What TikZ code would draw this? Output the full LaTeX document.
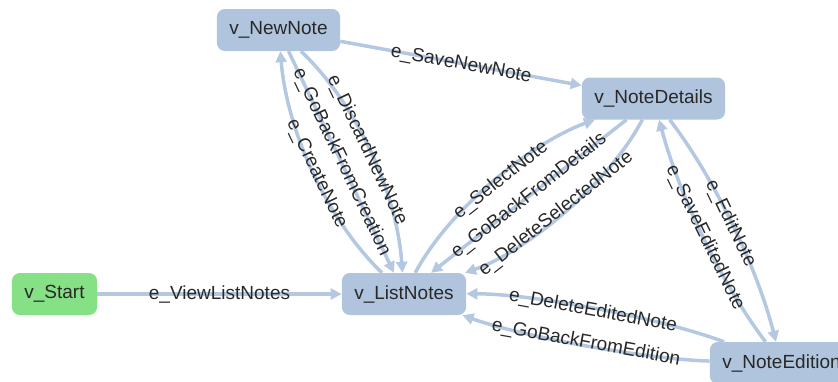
\documentclass[tikz,border=0pt]{standalone}
\usepackage{fontspec}
\setmainfont{Liberation Sans}
\usetikzlibrary{arrows.meta,calc}
\definecolor{nodeblue}{RGB}{176,196,222}
\definecolor{edgeblue}{RGB}{180,200,225}
\definecolor{startgreen}{RGB}{134,224,134}
\definecolor{txt}{RGB}{40,40,40}
\newcommand\qcurve[4][]{\draw[edge,#1] (#2) .. controls ($1.3333*(#4)-0.3333*(#3.center)$) and ($1.3333*(#4)-0.3333*(#2.center)$) .. (#3);}
\begin{document}
\begin{tikzpicture}[x=1pt,y=-1pt,
  vtx/.style={rectangle, rounded corners=8pt, fill=nodeblue, minimum height=42pt, inner xsep=12.5pt, inner ysep=0pt, text=txt, font=\fontsize{19pt}{22pt}\selectfont},
  startvtx/.style={vtx, fill=startgreen},
  edge/.style={draw=edgeblue, line width=3.5pt, -{Triangle[length=11pt,width=11pt]}},
  lbl/.style={text=txt, inner sep=0pt, font=\fontsize{19pt}{22pt}\selectfont}]
\useasboundingbox (0,0) rectangle (838,381);
\clip (0,0) rectangle (838,381);
% nodes
\node[startvtx] (st) at (54.5,294) {v\_Start};
\node[vtx] (lst) at (404,294) {v\_ListNotes};
\node[vtx] (nn) at (278.5,30) {v\_NewNote};
\node[vtx] (nd) at (653.5,98.5) {v\_NoteDetails};
\node[vtx] (ne) at (781.5,363) {v\_NoteEdition};
% label centres
\coordinate (mView) at (219.5,294);
\coordinate (mCreate) at (316.5,174);
\coordinate (mGBCreation) at (341.5,162);
\coordinate (mDiscard) at (367,150);
\coordinate (mSave) at (461,64.5);
\coordinate (mSelect) at (501,180);
\coordinate (mGBDetails) at (529,196);
\coordinate (mDelSel) at (556,214);
\coordinate (mEdit) at (730.5,223.5);
\coordinate (mSaveEd) at (705,238);
\coordinate (mDelEd) at (593,311);
\coordinate (mGBEd) at (586,343);
% edges
\draw[edge] (st) -- (lst);
\qcurve{lst}{nn}{mCreate}
\draw[edge] (nn) -- (lst);
\qcurve{nn}{lst}{mDiscard}
\draw[edge] (nn) -- (nd);
\qcurve{lst}{nd}{mSelect}
\draw[edge] (nd) -- (lst);
\qcurve{nd}{lst}{mDelSel}
\qcurve{nd}{ne}{mEdit}
\qcurve{ne}{nd}{mSaveEd}
\qcurve{ne}{lst}{mDelEd}
\qcurve{ne}{lst}{mGBEd}
% labels
\node[lbl] (lView) at (mView) {e\_ViewListNotes};
\node[lbl, rotate=-64.6] (lCreate) at (mCreate) {e\_CreateNote};
\node[lbl, rotate=-64.6] (lGBCreation) at (mGBCreation) {e\_GoBackFromCreation};
\node[lbl, rotate=-64.6] (lDiscard) at (mDiscard) {e\_DiscardNewNote};
\node[lbl, rotate=-10.35] (lSave) at (mSave) {e\_SaveNewNote};
\node[lbl, rotate=38.1] (lSelect) at (mSelect) {e\_SelectNote};
\node[lbl, rotate=38.1] (lGBDetails) at (mGBDetails) {e\_GoBackFromDetails};
\node[lbl, rotate=38.1] (lDelSel) at (mDelSel) {e\_DeleteSelectedNote};
\node[lbl, rotate=-64.2] (lEdit) at (mEdit) {e\_EditNote};
\node[lbl, rotate=-64.2] (lSaveEd) at (mSaveEd) {e\_SaveEditedNote};
\node[lbl, rotate=-10.4] (lDelEd) at (mDelEd) {e\_DeleteEditedNote};
\node[lbl, rotate=-10.4] (lGBEd) at (mGBEd) {e\_GoBackFromEdition};
\end{tikzpicture}
\end{document}
